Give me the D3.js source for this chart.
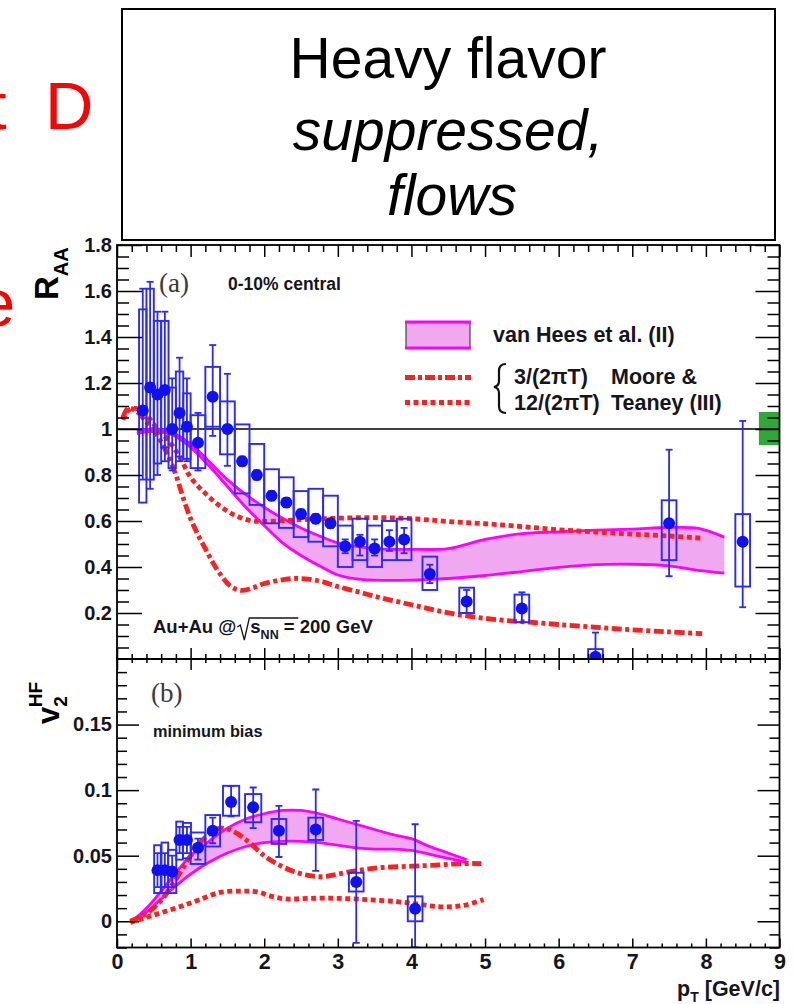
<!DOCTYPE html>
<html><head><meta charset="utf-8">
<script src="https://cdn.jsdelivr.net/npm/d3@7"></script>
<style>body{margin:0;background:#fff;} svg{display:block;}</style>
</head><body>
<svg id="c" width="794" height="1004"></svg>
<script>
// ---------------- DATA ----------------
// (a) R_AA, 0-10% central
const raaPt     = [0.35,0.45,0.55,0.65,0.75,0.85,0.95,1.1,1.3,1.5,1.7,1.9,2.1,2.3,2.5,2.7,2.9,3.1,3.3,3.5,3.7,3.9,4.25,4.75,5.5,6.5,7.5,8.5];
const raaVal    = [1.08,1.18,1.15,1.17,1.00,1.07,1.01,0.94,1.14,1.00,0.86,0.80,0.71,0.68,0.63,0.61,0.59,0.49,0.51,0.48,0.51,0.52,0.37,0.25,0.22,0.01,0.59,0.51];
const raaStatLo = [0.78,0.74,0.80,0.86,0.82,0.86,0.86,0.82,0.97,0.84,0.84,0.78,0.69,0.66,0.61,0.59,0.57,0.46,0.45,0.45,0.47,0.46,0.33,0.20,0.16,-0.10,0.36,0.225];
const raaStatHi = [1.61,1.64,1.51,1.51,1.22,1.31,1.22,1.07,1.365,1.24,0.88,0.82,0.73,0.70,0.65,0.63,0.61,0.52,0.54,0.52,0.56,0.57,0.41,0.30,0.29,0.115,0.91,1.035];
const raaSysLo  = [0.68,0.78,0.85,0.92,0.83,0.88,0.87,0.83,1.01,0.89,0.72,0.67,0.59,0.57,0.53,0.51,0.49,0.40,0.43,0.40,0.43,0.43,0.30,0.20,0.16,-0.02,0.43,0.315];
const raaSysHi  = [1.52,1.61,1.47,1.47,1.18,1.25,1.155,1.06,1.27,1.12,1.02,0.935,0.825,0.79,0.73,0.74,0.71,0.58,0.61,0.58,0.60,0.61,0.445,0.31,0.28,0.043,0.69,0.63];
const raaBinHalf= [0.05,0.05,0.05,0.05,0.05,0.05,0.05,0.1,0.1,0.1,0.1,0.1,0.1,0.1,0.1,0.1,0.1,0.1,0.1,0.1,0.1,0.1,0.1,0.1,0.1,0.1,0.1,0.1];

// van Hees et al. (II) band, R_AA
const vhRaaPt = [0.27,0.5,0.75,1.0,1.25,1.5,1.75,2.0,2.25,2.5,2.75,3.0,3.25,3.5,4.0,4.5,5.0,5.5,6.0,6.5,7.0,7.5,7.9,8.25];
const vhRaaHi = [0.99,1.0,0.985,0.935,0.86,0.78,0.715,0.66,0.612,0.57,0.535,0.505,0.49,0.48,0.477,0.48,0.52,0.545,0.553,0.56,0.565,0.572,0.568,0.53];
const vhRaaLo = [0.98,0.99,0.975,0.92,0.84,0.75,0.66,0.58,0.505,0.45,0.405,0.365,0.348,0.343,0.343,0.35,0.363,0.38,0.398,0.41,0.412,0.405,0.385,0.373];

// Moore & Teaney 3/(2piT), R_AA
const mt3RaaPt = [0.08,0.15,0.25,0.4,0.55,0.7,0.8,0.9,1.0,1.1,1.2,1.3,1.4,1.55,1.7,1.85,2.0,2.2,2.4,2.6,2.8,3.0,3.3,3.6,4.0,4.4,4.8,5.2,5.6,6.0,6.5,7.0,7.5,7.95];
const mt3Raa   = [1.05,1.09,1.08,1.03,0.97,0.88,0.8,0.7,0.61,0.54,0.48,0.42,0.37,0.315,0.298,0.31,0.328,0.342,0.35,0.347,0.335,0.315,0.29,0.265,0.236,0.207,0.185,0.17,0.16,0.15,0.138,0.127,0.118,0.11];
// Moore & Teaney 12/(2piT), R_AA
const mt12RaaPt = [0.08,0.15,0.25,0.4,0.55,0.7,0.85,1.0,1.2,1.4,1.6,1.8,2.0,2.5,3.0,3.5,4.0,4.5,5.0,5.5,6.0,6.5,7.0,7.5,7.95];
const mt12Raa   = [1.04,1.08,1.09,1.06,1.0,0.95,0.88,0.79,0.72,0.665,0.625,0.603,0.598,0.606,0.612,0.615,0.61,0.598,0.588,0.576,0.562,0.552,0.543,0.535,0.525];

// (b) v2 heavy flavour, minimum bias
const v2Pt     = [0.55,0.65,0.75,0.85,0.95,1.1,1.3,1.55,1.85,2.2,2.7,3.25,4.05];
const v2Val    = [0.039,0.039,0.038,0.062,0.062,0.056,0.069,0.091,0.087,0.069,0.070,0.030,0.0095];
const v2StatLo = [0.026,0.026,0.026,0.052,0.052,0.047,0.0595,0.080,0.071,0.049,0.0385,-0.0165,-0.02];
const v2StatHi = [0.052,0.052,0.050,0.072,0.072,0.063,0.079,0.103,0.102,0.088,0.1005,0.0765,0.074];
const v2SysLo  = [0.0215,0.0215,0.0215,0.047,0.048,0.0437,0.057,0.0805,0.0755,0.059,0.062,0.0227,0.0];
const v2SysHi  = [0.058,0.060,0.0545,0.076,0.075,0.0677,0.081,0.1033,0.097,0.078,0.079,0.037,0.019];
const v2BinHalf= [0.045,0.045,0.055,0.045,0.055,0.1,0.1,0.11,0.11,0.1,0.1,0.1,0.1];

const vhV2Pt = [0.2,0.4,0.6,0.8,1.0,1.25,1.5,1.75,2.0,2.25,2.5,2.75,3.0,3.25,3.5,3.75,4.0,4.25,4.5,4.75];
const vhV2Hi = [0.0,0.01,0.023,0.037,0.05,0.061,0.071,0.078,0.082,0.0845,0.0845,0.082,0.078,0.074,0.070,0.066,0.063,0.057,0.052,0.047];
const vhV2Lo = [0.0,0.007,0.017,0.027,0.036,0.045,0.052,0.057,0.06,0.061,0.061,0.06,0.058,0.056,0.055,0.055,0.054,0.051,0.048,0.045];

const mt3V2Pt = [0.18,0.4,0.6,0.8,1.0,1.2,1.4,1.6,1.8,2.0,2.2,2.4,2.6,2.8,3.0,3.3,3.6,4.0,4.4,4.7,4.95];
const mt3V2   = [0.0,0.006,0.016,0.032,0.05,0.064,0.071,0.068,0.06,0.05,0.043,0.038,0.035,0.034,0.036,0.039,0.041,0.042,0.043,0.044,0.044];
const mt12V2Pt = [0.18,0.4,0.6,0.85,1.1,1.4,1.7,1.9,2.1,2.3,2.6,3.0,3.4,3.8,4.1,4.4,4.7,4.98];
const mt12V2   = [-0.001,0.003,0.0065,0.011,0.016,0.022,0.023,0.0225,0.019,0.017,0.0175,0.0175,0.0165,0.015,0.013,0.011,0.012,0.0165];

// normalisation uncertainty box at R_AA = 1
const normBox = {x0: 8.72, x1: 9.0, lo: 0.93, hi: 1.074};

// tick labels
const xTicks = [0,1,2,3,4,5,6,7,8,9];
const xTickLabels = ["0","1","2","3","4","5","6","7","8","9"];
const raaTicks = [0.2,0.4,0.6,0.8,1.0,1.2,1.4,1.6,1.8];
const raaTickLabels = ["0.2","0.4","0.6","0.8","1","1.2","1.4","1.6","1.8"];
const v2Ticks = [0,0.05,0.1,0.15];
const v2TickLabels = ["0","0.05","0.1","0.15"];

// ---------------- DRAW ----------------
const svg = d3.select("#c");
const FONT = "'Liberation Sans', Arial, sans-serif";
const MAG = "#ff00ff", MAGFILL = "#f0a8f0", RED = "#ff1f1f", BLUE = "#1010f0", BOXB = "#2a2aff", TXT = "#151520";

const x = d3.scaleLinear().domain([0,9]).range([117,779.5]);
const yA = d3.scaleLinear().domain([0,1.8]).range([659,245]);
const yB = d3.scaleLinear().domain([-0.02,0.2]).range([947.5,659]);

// ---- title box & red text ----
svg.append("rect").attr("x",122).attr("y",9).attr("width",653).attr("height",231)
  .attr("fill","#fff").attr("stroke","#000").attr("stroke-width",2);
const titleG = svg.append("g").attr("font-family",FONT).attr("font-size",57).attr("text-anchor","middle").attr("fill","#000");
titleG.append("text").attr("x",448).attr("y",78).text("Heavy flavor");
titleG.append("text").attr("x",448).attr("y",150).attr("font-style","italic").text("suppressed,");
titleG.append("text").attr("x",452).attr("y",215).attr("font-style","italic").text("flows");
const redG = svg.append("g").attr("font-family",FONT).attr("font-size",67).attr("fill","#ff0000");
redG.append("text").attr("x",-12).attr("y",129).text("t");
redG.append("text").attr("x",45).attr("y",129).text("D");
redG.append("text").attr("x",-22).attr("y",326).text("e");

// ---- clip paths ----
const defs = svg.append("defs");
defs.append("clipPath").attr("id","clipA").append("rect")
  .attr("x",x(0)).attr("y",yA(1.8)).attr("width",x(9)-x(0)).attr("height",yA(0)-yA(1.8));
defs.append("clipPath").attr("id","clipB").append("rect")
  .attr("x",x(0)).attr("y",yB(0.2)).attr("width",x(9)-x(0)).attr("height",yB(-0.02)-yB(0.2));

function drawPanel(g, y, vh, mt3, mt12, pts) {
  const band = vh.pt.map((p,i)=>({p, lo: vh.lo[i], hi: vh.hi[i]}));
  g.append("path").datum(band)
    .attr("d", d3.area().x(d=>x(d.p)).y0(d=>y(d.lo)).y1(d=>y(d.hi)).curve(d3.curveCatmullRom))
    .attr("fill",MAGFILL).attr("stroke","none");
  ["lo","hi"].forEach(k=>{
    g.append("path").datum(band)
      .attr("d", d3.line().x(d=>x(d.p)).y(d=>y(d[k])).curve(d3.curveCatmullRom))
      .attr("fill","none").attr("stroke",MAG).attr("stroke-width",2.8);
  });
  const l = d3.line().x(d=>x(d[0])).y(d=>y(d[1])).curve(d3.curveCatmullRom);
  g.append("path").datum(mt3.pt.map((p,i)=>[p,mt3.v[i]])).attr("d",l)
    .attr("fill","none").attr("stroke",RED).attr("stroke-width",4.8).attr("stroke-dasharray","10,3.5,4,3.5");
  g.append("path").datum(mt12.pt.map((p,i)=>[p,mt12.v[i]])).attr("d",l)
    .attr("fill","none").attr("stroke",RED).attr("stroke-width",4.8).attr("stroke-dasharray","5,3.5");
  const d = pts.pt.map((p,i)=>({p, v: pts.v[i], sl: pts.sl[i], sh: pts.sh[i], yl: pts.yl[i], yh: pts.yh[i], hw: pts.hw[i]}));
  g.selectAll("rect.sys").data(d).join("rect").attr("class","sys")
    .attr("x", e=>x(e.p-e.hw)).attr("width", e=>x(e.p+e.hw)-x(e.p-e.hw))
    .attr("y", e=>y(e.yh)).attr("height", e=>y(e.yl)-y(e.yh))
    .attr("fill","none").attr("stroke",BOXB).attr("stroke-width",1.9);
  g.selectAll("line.stat").data(d).join("line").attr("class","stat")
    .attr("x1",e=>x(e.p)).attr("x2",e=>x(e.p)).attr("y1",e=>y(e.sl)).attr("y2",e=>y(e.sh))
    .attr("stroke",BOXB).attr("stroke-width",1.8);
  ["sl","sh"].forEach(k=>{
    g.selectAll("line.cap"+k).data(d).join("line").attr("class","cap"+k)
      .attr("x1",e=>x(e.p)-3.5).attr("x2",e=>x(e.p)+3.5).attr("y1",e=>y(e[k])).attr("y2",e=>y(e[k]))
      .attr("stroke",BOXB).attr("stroke-width",1.8);
  });
  g.selectAll("circle.pt").data(d).join("circle").attr("class","pt")
    .attr("cx",e=>x(e.p)).attr("cy",e=>y(e.v)).attr("r",6).attr("fill",BLUE);
}

// panel (a)
const gA = svg.append("g").attr("clip-path","url(#clipA)");
gA.append("rect").attr("x",x(normBox.x0)).attr("width",x(normBox.x1)-x(normBox.x0))
  .attr("y",yA(normBox.hi)).attr("height",yA(normBox.lo)-yA(normBox.hi)).attr("fill","#2fa838");
gA.append("line").attr("x1",x(0)).attr("x2",x(9)).attr("y1",yA(1)).attr("y2",yA(1)).attr("stroke","#000").attr("stroke-width",1.4);
drawPanel(gA, yA,
  {pt: vhRaaPt, lo: vhRaaLo, hi: vhRaaHi},
  {pt: mt3RaaPt, v: mt3Raa}, {pt: mt12RaaPt, v: mt12Raa},
  {pt: raaPt, v: raaVal, sl: raaStatLo, sh: raaStatHi, yl: raaSysLo, yh: raaSysHi, hw: raaBinHalf});

// panel (b)
const gB = svg.append("g").attr("clip-path","url(#clipB)");
drawPanel(gB, yB,
  {pt: vhV2Pt, lo: vhV2Lo, hi: vhV2Hi},
  {pt: mt3V2Pt, v: mt3V2}, {pt: mt12V2Pt, v: mt12V2},
  {pt: v2Pt, v: v2Val, sl: v2StatLo, sh: v2StatHi, yl: v2SysLo, yh: v2SysHi, hw: v2BinHalf});

// ---- axes ----
function styleAxis(sel){ sel.select(".domain").remove(); sel.selectAll("line").attr("stroke","#000").attr("stroke-width",1.5); sel.selectAll("text").attr("font-family",FONT).attr("font-weight","bold").attr("fill",TXT); }
const minorX = d3.range(0,9.001,0.2).filter(v=>Math.abs(v-Math.round(v))>1e-6);
const minorA = d3.range(0,1.8001,0.05).filter(v=>Math.abs(v*5-Math.round(v*5))>1e-6);
const minorB = d3.range(-0.02,0.2001,0.01).filter(v=>Math.abs(v*20-Math.round(v*20))>1e-6);

function addAxis(gen, tr){ const a = svg.append("g").attr("transform",tr).call(gen); styleAxis(a); return a; }

// Panel A
addAxis(d3.axisLeft(yA).tickValues(raaTicks).tickFormat((d,i)=>raaTickLabels[i]).tickSizeInner(-25).tickSizeOuter(0).tickPadding(5), `translate(${x(0)},0)`)
  .selectAll("text").attr("font-size",20);
addAxis(d3.axisLeft(yA).tickValues(minorA).tickFormat("").tickSizeInner(-12).tickSizeOuter(0), `translate(${x(0)},0)`);
addAxis(d3.axisRight(yA).tickValues(raaTicks).tickFormat("").tickSizeInner(-24).tickSizeOuter(0), `translate(${x(9)},0)`);
addAxis(d3.axisRight(yA).tickValues(minorA).tickFormat("").tickSizeInner(-12).tickSizeOuter(0), `translate(${x(9)},0)`);
addAxis(d3.axisTop(x).tickValues(xTicks).tickFormat("").tickSizeInner(-12).tickSizeOuter(0), `translate(0,${yA(1.8)})`);
addAxis(d3.axisTop(x).tickValues(minorX).tickFormat("").tickSizeInner(-7).tickSizeOuter(0), `translate(0,${yA(1.8)})`);
addAxis(d3.axisBottom(x).tickValues(xTicks).tickFormat("").tickSizeInner(-11).tickSizeOuter(0), `translate(0,${yA(0)})`);
addAxis(d3.axisBottom(x).tickValues(minorX).tickFormat("").tickSizeInner(-5).tickSizeOuter(0), `translate(0,${yA(0)})`);
// Panel B
addAxis(d3.axisLeft(yB).tickValues(v2Ticks).tickFormat((d,i)=>v2TickLabels[i]).tickSizeInner(-22).tickSizeOuter(0).tickPadding(5), `translate(${x(0)},0)`)
  .selectAll("text").attr("font-size",20);
addAxis(d3.axisLeft(yB).tickValues(minorB).tickFormat("").tickSizeInner(-10).tickSizeOuter(0), `translate(${x(0)},0)`);
addAxis(d3.axisRight(yB).tickValues(v2Ticks).tickFormat("").tickSizeInner(-22).tickSizeOuter(0), `translate(${x(9)},0)`);
addAxis(d3.axisRight(yB).tickValues(minorB).tickFormat("").tickSizeInner(-10).tickSizeOuter(0), `translate(${x(9)},0)`);
addAxis(d3.axisTop(x).tickValues(xTicks).tickFormat("").tickSizeInner(-11).tickSizeOuter(0), `translate(0,${yB(0.2)})`);
addAxis(d3.axisTop(x).tickValues(minorX).tickFormat("").tickSizeInner(-4).tickSizeOuter(0), `translate(0,${yB(0.2)})`);
addAxis(d3.axisBottom(x).tickValues(xTicks).tickFormat((d,i)=>xTickLabels[i]).tickSizeInner(-9).tickSizeOuter(0).tickPadding(3), `translate(0,${yB(-0.02)})`)
  .selectAll("text").attr("font-size",21.5).attr("dy","0.85em");
addAxis(d3.axisBottom(x).tickValues(minorX).tickFormat("").tickSizeInner(-4).tickSizeOuter(0), `translate(0,${yB(-0.02)})`);

// frames
svg.append("rect").attr("x",x(0)).attr("y",yA(1.8)).attr("width",x(9)-x(0)).attr("height",yA(0)-yA(1.8)).attr("fill","none").attr("stroke","#000").attr("stroke-width",1.8);
svg.append("rect").attr("x",x(0)).attr("y",yB(0.2)).attr("width",x(9)-x(0)).attr("height",yB(-0.02)-yB(0.2)).attr("fill","none").attr("stroke","#000").attr("stroke-width",1.8);

// ---- axis titles ----
const raaT = svg.append("text").attr("transform","translate(58,300) rotate(-90)").attr("font-family",FONT).attr("font-weight","bold").attr("fill","#000");
raaT.append("tspan").attr("font-size",33).text("R");
raaT.append("tspan").attr("font-size",20).attr("dy",10).text("AA");
const v2T = svg.append("text").attr("transform","translate(59,724) rotate(-90)").attr("font-family",FONT).attr("font-weight","bold").attr("fill","#000");
v2T.append("tspan").attr("font-size",31).text("v");
v2T.append("tspan").attr("font-size",19).attr("dy",8).text("2");
v2T.append("tspan").attr("font-size",19).attr("dx",-11).attr("dy",-25).text("HF");
const ptT = svg.append("text").attr("x",780).attr("y",996).attr("text-anchor","end").attr("font-family",FONT).attr("font-weight","bold").attr("fill",TXT).attr("font-size",21.5);
ptT.append("tspan").text("p");
ptT.append("tspan").attr("font-size",14).attr("dy",6).text("T");
ptT.append("tspan").attr("dy",-6).text(" [GeV/c]");

// ---- panel labels ----
svg.append("text").attr("x",159).attr("y",292).attr("font-family","'Liberation Serif', serif").attr("font-size",27).attr("fill","#3a3a3a").text("(a)");
svg.append("text").attr("x",228).attr("y",290).attr("font-family",FONT).attr("font-weight","bold").attr("font-size",17.5).attr("fill",TXT).text("0-10% central");
svg.append("text").attr("x",151).attr("y",702).attr("font-family","'Liberation Serif', serif").attr("font-size",27).attr("fill","#3a3a3a").text("(b)");
svg.append("text").attr("x",153).attr("y",737).attr("font-family",FONT).attr("font-weight","bold").attr("font-size",16.3).attr("fill",TXT).text("minimum bias");

// Au+Au @ sqrt(s_NN) = 200 GeV
(function(){
  const g = svg.append("g").attr("font-family",FONT).attr("font-weight","bold").attr("fill",TXT);
  const t1 = g.append("text").attr("x",153).attr("y",633).attr("font-size",18.5).text("Au+Au @");
  const w1 = t1.node().getComputedTextLength();
  const rx = 153 + w1 + 1;
  g.append("path").attr("d",`M${rx},627 L${rx+3},625 L${rx+7},640 L${rx+12},618 L${rx+61},618`)
    .attr("fill","none").attr("stroke",TXT).attr("stroke-width",1.3);
  const t2 = g.append("text").attr("x",rx+13).attr("y",633).attr("font-size",18.5);
  t2.append("tspan").text("s");
  t2.append("tspan").attr("font-size",12.5).attr("dy",6).text("NN");
  t2.append("tspan").attr("dy",-6).text(" = 200 GeV");
})();

// ---- legend ----
const lg = svg.append("g");
lg.append("rect").attr("x",406).attr("y",322).attr("width",64).attr("height",26).attr("fill",MAGFILL).attr("stroke","#222").attr("stroke-width",1);
lg.append("line").attr("x1",405).attr("x2",471).attr("y1",322).attr("y2",322).attr("stroke",MAG).attr("stroke-width",3.2);
lg.append("line").attr("x1",405).attr("x2",471).attr("y1",348).attr("y2",348).attr("stroke",MAG).attr("stroke-width",3.2);
lg.append("line").attr("x1",405).attr("x2",471).attr("y1",377.5).attr("y2",377.5).attr("stroke",RED).attr("stroke-width",4.8).attr("stroke-dasharray","10,3,4,3");
lg.append("line").attr("x1",405).attr("x2",471).attr("y1",402.5).attr("y2",402.5).attr("stroke",RED).attr("stroke-width",4.8).attr("stroke-dasharray","5,3.5");
lg.append("path").attr("d","M506,364 Q499,364 499,371 L499,381 Q499,386 494,387 Q499,388 499,393 L499,406 Q499,413 506,413")
  .attr("fill","none").attr("stroke","#111").attr("stroke-width",2.2);
const lt = lg.append("g").attr("font-family",FONT).attr("font-weight","bold").attr("font-size",21.5).attr("fill",TXT);
lt.append("text").attr("x",493).attr("y",342).text("van Hees et al. (II)");
lt.append("text").attr("x",514).attr("y",384).text("3/(2\u03C0T)");
lt.append("text").attr("x",514).attr("y",410).text("12/(2\u03C0T)");
lt.append("text").attr("x",611).attr("y",384).text("Moore &");
lt.append("text").attr("x",611).attr("y",410).text("Teaney (III)");
</script>
</body></html>
